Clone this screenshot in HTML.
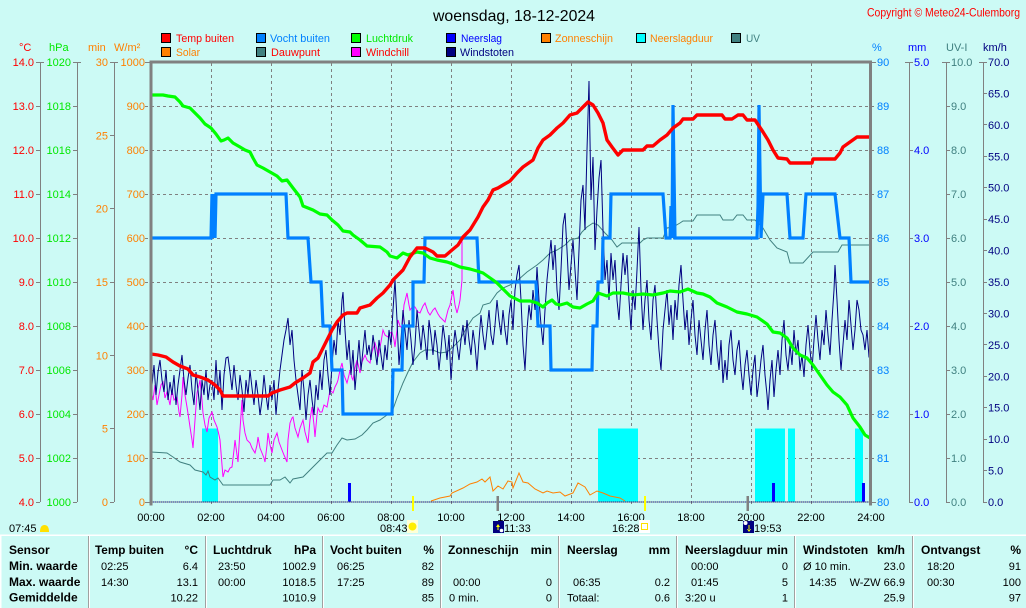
<!DOCTYPE html>
<html><head><meta charset="utf-8"><style>
html,body{margin:0;padding:0;background:#CCFAF5;}
svg{display:block;font-family:"Liberation Sans",sans-serif;}
</style></head><body>
<svg width="1026" height="608" viewBox="0 0 1026 608" xmlns="http://www.w3.org/2000/svg">
<rect x="0" y="0" width="1026" height="608" fill="#CCFAF5"/>

<!-- Title & copyright -->
<text x="514" y="21" font-size="16" text-anchor="middle" fill="#000" textLength="162" lengthAdjust="spacingAndGlyphs">woensdag, 18-12-2024</text>
<text x="867" y="16.5" font-size="12" fill="#FF0000" textLength="153" lengthAdjust="spacingAndGlyphs">Copyright © Meteo24-Culemborg</text>

<!-- Legend -->
<g font-size="11" stroke="none">
<rect x="161.5" y="33.5" width="9" height="9" fill="#FF0000" stroke="#000"/>
<text x="176" y="42" fill="#FF0000" textLength="58" lengthAdjust="spacingAndGlyphs">Temp buiten</text>
<rect x="256.5" y="33.5" width="9" height="9" fill="#0080FF" stroke="#000"/>
<text x="270" y="42" fill="#0080FF" textLength="60" lengthAdjust="spacingAndGlyphs">Vocht buiten</text>
<rect x="351.5" y="33.5" width="9" height="9" fill="#00FF00" stroke="#000"/>
<text x="366" y="42" fill="#00E800" textLength="47" lengthAdjust="spacingAndGlyphs">Luchtdruk</text>
<rect x="446.5" y="33.5" width="9" height="9" fill="#0000FF" stroke="#000"/>
<text x="461" y="42" fill="#0000FF" textLength="41" lengthAdjust="spacingAndGlyphs">Neerslag</text>
<rect x="541.5" y="33.5" width="9" height="9" fill="#FF8000" stroke="#000"/>
<text x="555" y="42" fill="#FF8000" textLength="58" lengthAdjust="spacingAndGlyphs">Zonneschijn</text>
<rect x="636.5" y="33.5" width="9" height="9" fill="#00FFFF" stroke="#000"/>
<text x="650" y="42" fill="#FF8000" textLength="63" lengthAdjust="spacingAndGlyphs">Neerslagduur</text>
<rect x="731.5" y="33.5" width="9" height="9" fill="#408080" stroke="#000"/>
<text x="746" y="42" fill="#408080" textLength="14" lengthAdjust="spacingAndGlyphs">UV</text>

<rect x="161.5" y="47.5" width="9" height="9" fill="#FF8000" stroke="#000"/>
<text x="176" y="56" fill="#FF8000" textLength="24" lengthAdjust="spacingAndGlyphs">Solar</text>
<rect x="256.5" y="47.5" width="9" height="9" fill="#408080" stroke="#000"/>
<text x="271" y="56" fill="#FF0000" textLength="49" lengthAdjust="spacingAndGlyphs">Dauwpunt</text>
<rect x="351.5" y="47.5" width="9" height="9" fill="#FF00FF" stroke="#000"/>
<text x="366" y="56" fill="#FF0000" textLength="43" lengthAdjust="spacingAndGlyphs">Windchill</text>
<rect x="446.5" y="47.5" width="9" height="9" fill="#000080" stroke="#000"/>
<text x="460" y="56" fill="#000080" textLength="54" lengthAdjust="spacingAndGlyphs">Windstoten</text>
</g>

<!-- Axis headers -->
<g font-size="11">
<text x="19" y="51" fill="#FF0000">°C</text>
<text x="49" y="51" fill="#00E800">hPa</text>
<text x="88" y="51" fill="#FF8000">min</text>
<text x="114" y="51" fill="#FF8000">W/m²</text>
<text x="872" y="51" fill="#0080FF">%</text>
<text x="908" y="51" fill="#0000FF">mm</text>
<text x="946" y="51" fill="#408080">UV-I</text>
<text x="983" y="51" fill="#000080">km/h</text>
</g>

<!-- Gridlines -->
<g stroke="#808080" stroke-width="1" stroke-dasharray="3,3" fill="none">
<path d="M211.5 63V505M271.5 63V505M331.5 63V505M391.5 63V505M451.5 63V505M511.5 63V505M571.5 63V505M631.5 63V505M691.5 63V505M751.5 63V505M811.5 63V505"/>
<path d="M145 106.5H876M145 150.5H876M145 194.5H876M145 238.5H876M145 282.5H876M145 326.5H876M145 370.5H876M145 414.5H876M145 458.5H876"/>
</g>

<!-- Left axes -->
<g stroke="#808080" stroke-width="1" fill="none">
<path d="M40.5 62V502M77.5 62V502M114.5 62V502"/>
<path d="M36 62.5H44M36 106.5H40M36 150.5H40M36 194.5H40M36 238.5H40M36 282.5H40M36 326.5H40M36 370.5H40M36 414.5H40M36 458.5H40M36 502.5H40"/>
<path d="M73 62.5H81M73 106.5H77M73 150.5H77M73 194.5H77M73 238.5H77M73 282.5H77M73 326.5H77M73 370.5H77M73 414.5H77M73 458.5H77M73 502.5H77"/>
<path d="M110 62.5H118M110 135.5H114M110 208.5H114M110 282.5H114M110 355.5H114M110 428.5H114M110 502.5H114"/>
<path d="M145 62.5H151M145 502.5H151"/>
</g>
<g font-size="11" fill="#FF0000" text-anchor="end">
<text x="34" y="66">14.0</text><text x="34" y="110">13.0</text><text x="34" y="154">12.0</text><text x="34" y="198">11.0</text><text x="34" y="242">10.0</text><text x="34" y="286">9.0</text><text x="34" y="330">8.0</text><text x="34" y="374">7.0</text><text x="34" y="418">6.0</text><text x="34" y="462">5.0</text><text x="34" y="506">4.0</text>
</g>
<g font-size="11" fill="#00E800" text-anchor="end">
<text x="71" y="66">1020</text><text x="71" y="110">1018</text><text x="71" y="154">1016</text><text x="71" y="198">1014</text><text x="71" y="242">1012</text><text x="71" y="286">1010</text><text x="71" y="330">1008</text><text x="71" y="374">1006</text><text x="71" y="418">1004</text><text x="71" y="462">1002</text><text x="71" y="506">1000</text>
</g>
<g font-size="11" fill="#FF8000" text-anchor="end">
<text x="108" y="66">30</text><text x="108" y="139.3">25</text><text x="108" y="212.7">20</text><text x="108" y="286">15</text><text x="108" y="359.3">10</text><text x="108" y="432.7">5</text><text x="108" y="506">0</text>
<text x="145" y="66">1000</text><text x="145" y="110">900</text><text x="145" y="154">800</text><text x="145" y="198">700</text><text x="145" y="242">600</text><text x="145" y="286">500</text><text x="145" y="330">400</text><text x="145" y="374">300</text><text x="145" y="418">200</text><text x="145" y="462">100</text><text x="145" y="506">0</text>
</g>

<!-- Right axes -->
<g stroke="#808080" stroke-width="1" fill="none">
<path d="M909.5 62V502M946.5 62V502M983.5 62V502"/>
<path d="M871 62.5H876M871 502.5H876"/>
<path d="M905 62.5H913M909 150.5H913M909 238.5H913M909 326.5H913M909 414.5H913M909 502.5H913"/>
<path d="M942 62.5H950M946 106.5H950M946 150.5H950M946 194.5H950M946 238.5H950M946 282.5H950M946 326.5H950M946 370.5H950M946 414.5H950M946 458.5H950M946 502.5H950"/>
<path d="M979 62.5H987M983 93.5H987M983 124.5H987M983 156.5H987M983 187.5H987M983 219.5H987M983 250.5H987M983 282.5H987M983 313.5H987M983 344.5H987M983 376.5H987M983 407.5H987M983 439.5H987M983 470.5H987M983 502.5H987"/>
</g>
<g font-size="11" fill="#0080FF">
<text x="877" y="66">90</text><text x="877" y="110">89</text><text x="877" y="154">88</text><text x="877" y="198">87</text><text x="877" y="242">86</text><text x="877" y="286">85</text><text x="877" y="330">84</text><text x="877" y="374">83</text><text x="877" y="418">82</text><text x="877" y="462">81</text><text x="877" y="506">80</text>
</g>
<g font-size="11" fill="#0000FF">
<text x="914" y="66">5.0</text><text x="914" y="154">4.0</text><text x="914" y="242">3.0</text><text x="914" y="330">2.0</text><text x="914" y="418">1.0</text><text x="914" y="506">0.0</text>
</g>
<g font-size="11" fill="#408080">
<text x="951" y="66">10.0</text><text x="951" y="110">9.0</text><text x="951" y="154">8.0</text><text x="951" y="198">7.0</text><text x="951" y="242">6.0</text><text x="951" y="286">5.0</text><text x="951" y="330">4.0</text><text x="951" y="374">3.0</text><text x="951" y="418">2.0</text><text x="951" y="462">1.0</text><text x="951" y="506">0.0</text>
</g>
<g font-size="11" fill="#000080">
<text x="988" y="66">70.0</text><text x="988" y="97.4">65.0</text><text x="988" y="128.9">60.0</text><text x="988" y="160.3">55.0</text><text x="988" y="191.7">50.0</text><text x="988" y="223.1">45.0</text><text x="988" y="254.6">40.0</text><text x="988" y="286">35.0</text><text x="988" y="317.4">30.0</text><text x="988" y="348.9">25.0</text><text x="988" y="380.3">20.0</text><text x="988" y="411.7">15.0</text><text x="988" y="443.1">10.0</text><text x="988" y="474.6">5.0</text><text x="988" y="506">0.0</text>
</g>

<!-- Rain duration bars -->
<g fill="#00FFFF">
<rect x="202" y="428.5" width="16" height="73.5"/>
<rect x="598" y="428.5" width="40" height="73.5"/>
<rect x="755" y="428.5" width="30" height="73.5"/>
<rect x="788" y="428.5" width="7" height="73.5"/>
<rect x="855" y="428.5" width="8" height="73.5"/>
</g>

<!-- Dew point -->
<polyline fill="none" stroke="#408080" stroke-width="1" points="151,452 167,453 173,457 180,462 190,465 195,470 203,472 206,475 208,471 210,477 215,480 218,478 223,485 270,485 273,480 280,480 285,477 290,483 293,479 303,477 310,470 315,465 320,460 327,453 332,453 337,445 342,438 347,440 355,439 362,435 367,430 373,423 380,420 387,415 392,412 397,398 403,383 408,372 413,362 420,353 425,350 433,350 440,353 447,352 453,347 460,340 467,327 473,318 480,313 483,305 490,303 497,293 503,288 510,285 518,280 527,272 537,265 543,260 550,253 557,250 565,245 570,240 578,238 582,232 587,227 593,223 598,225 605,233 612,240 617,247 622,243 640,243 643,240 647,238 663,238 667,228 673,227 680,223 683,221 693,221 697,215 720,215 723,220 733,220 737,215 743,215 747,220 755,220 763,228 770,240 777,248 787,252 790,263 803,263 813,252 838,252 842,245 871,245"/>

<!-- Windchill -->
<polyline fill="none" stroke="#FF00FF" stroke-width="1" points="151,390 153,400 155,385 157,405 159,395 161,385 163,382 165,398 167,392 170,405 172,390 174,400 177,397 179,412 180,417 182,395 183,377 185,395 187,407 189,420 190,427 192,440 193,448 195,420 197,393 199,385 200,380 202,400 203,413 205,425 207,432 209,418 212,412 214,420 217,427 219,435 220,440 222,465 223,477 225,470 228,472 230,468 232,467 234,450 235,440 237,455 238,462 240,430 242,400 243,420 245,433 247,440 250,443 252,448 255,453 257,445 258,437 260,448 262,453 264,458 265,462 267,445 268,433 270,445 272,453 274,440 277,433 279,442 282,450 284,455 287,462 288,440 290,423 292,418 293,417 295,428 298,437 300,428 303,420 305,432 308,443 310,420 312,407 314,425 315,437 317,415 318,408 320,412 322,412 324,405 327,407 329,396 330,390 333,393 335,387 337,383 338,380 340,370 342,363 344,375 347,383 349,375 350,370 352,378 353,380 355,368 357,360 359,368 360,373 362,362 365,355 367,360 370,363 372,352 375,343 377,350 378,357 381,342 383,330 385,335 388,337 390,333 392,332 394,340 395,347 397,330 398,320 400,326 402,328 404,305 407,293 409,305 410,310 413,306 415,307 418,312 420,313 423,306 425,303 428,312 430,315 433,310 435,308 438,314 440,317 443,320 445,322 448,310 450,305 452,295 453,290 455,305 457,313 459,305 460,300 462,280 462,240"/>

<!-- Wind gusts -->
<polyline fill="none" stroke="#000080" stroke-width="1" points="151,383 152,385 154,365 156,395 158,372 160,360 162,380 164,392 166,370 168,400 170,382 172,395 174,375 176,405 178,385 180,370 182,355 184,380 186,395 188,378 190,365 192,390 194,405 196,372 198,390 200,410 202,380 204,395 206,370 208,400 210,385 212,380 214,400 216,360 218,395 220,370 222,410 224,375 226,358 228,357 230,372 232,390 234,365 236,385 238,400 240,375 242,390 244,412 246,380 248,395 250,370 252,388 254,405 256,380 258,395 260,415 262,400 264,375 266,395 268,410 270,385 272,400 274,380 276,415 278,390 280,370 282,355 284,340 286,330 288,318 290,345 292,330 294,360 296,380 298,395 300,410 302,370 304,390 306,420 308,395 310,380 312,400 314,415 316,385 318,400 320,370 322,390 324,360 326,350 328,375 330,395 332,365 334,340 336,355 338,320 340,335 342,300 343,292 345,330 347,360 349,340 351,375 353,350 355,390 357,365 359,340 361,370 363,350 365,330 367,355 369,345 371,360 373,335 375,350 377,365 379,340 381,355 383,370 385,345 387,360 389,330 391,345 393,310 395,280 397,320 399,365 401,340 403,310 405,330 407,350 409,320 411,340 413,365 415,345 417,310 419,330 421,350 423,325 425,340 427,360 429,320 431,335 433,355 435,330 437,345 439,370 441,350 443,325 445,340 447,360 449,335 451,380 453,350 455,330 457,345 459,360 461,340 463,325 465,345 467,320 469,340 471,355 473,330 475,345 477,370 479,340 481,315 483,335 485,350 487,330 489,310 491,335 493,345 495,325 497,300 499,320 501,335 503,310 505,330 507,345 509,315 511,300 513,330 515,290 517,275 519,265 521,300 523,345 525,370 527,330 529,305 531,320 533,290 535,310 537,267 539,300 541,325 543,345 545,310 547,280 549,260 551,240 553,270 555,245 557,290 559,310 561,270 563,225 565,213 567,250 569,290 571,265 573,240 575,270 577,300 579,250 581,200 583,185 585,230 587,150 589,81 591,200 593,157 595,250 597,210 599,178 601,160 603,230 605,280 607,260 609,300 611,253 613,280 615,260 617,300 619,320 621,285 623,253 625,275 627,255 629,300 631,330 633,290 635,310 637,270 639,227 641,290 643,330 645,300 647,280 649,320 651,340 653,300 655,285 657,320 659,350 661,370 663,330 665,310 667,290 669,325 671,305 673,340 675,300 677,320 679,285 681,265 683,300 685,330 687,310 689,345 691,320 693,300 695,335 697,355 699,320 701,340 703,360 705,330 707,310 709,345 711,365 713,335 715,320 717,350 719,370 721,340 723,383 725,360 727,380 729,345 731,330 733,360 735,375 737,350 739,340 741,370 743,390 745,365 747,350 749,375 751,395 753,370 755,355 757,397 759,380 761,360 763,345 765,375 767,395 768,410 770,380 772,360 774,397 776,370 778,350 780,375 782,340 784,320 786,355 788,370 790,345 792,365 794,330 796,355 798,340 800,370 802,355 804,377 806,345 808,325 810,350 812,370 814,340 816,315 818,340 820,360 822,330 824,345 826,310 828,335 830,355 832,320 834,290 835,265 837,300 839,340 841,370 843,345 845,320 847,340 849,300 851,325 853,350 855,330 857,300 859,310 861,330 863,335 865,350 867,330 869,357 871,357"/>

<!-- Solar -->
<polyline fill="none" stroke="#FF8000" stroke-width="1" points="431,501 440,498 450,496 452,493 463,488 470,484 477,482 482,479 485,482 490,477 493,491 498,486 503,489 508,481 512,482 513,488 519,473 523,482 528,483 535,489 543,493 547,491 553,493 560,492 565,496 573,493 578,483 585,487 590,495 597,491 603,493 610,496 620,498 625,501"/>

<!-- Rain bars -->
<g fill="#0000FF">
<rect x="348" y="483" width="3" height="19"/>
<rect x="772" y="483" width="3" height="19"/>
<rect x="862" y="483" width="3" height="19"/>
</g>

<!-- Humidity -->
<polyline fill="none" stroke="#0080FF" stroke-width="3.2" stroke-linejoin="miter" points="151,238 211,238 212,194 213,238 214,194 215,238 216,194 286,194 288,238 308,238 311,282 321,282 323,326 330,326 332,370 342,370 343,414 392,414 393,370 402,370 403,326 413,326 413,282 424,282 425,238 477,238 479,282 536,282 538,326 550,326 551,370 592,370 593,326 597,326 598,282 602,282 603,238 610,238 611,194 663,194 666,238 670,238 671,206 672,238 673,105 675,238 757,238 758,206 759,105 761,238 763,194 787,194 790,238 803,238 806,194 835,194 840,238 849,238 851,282 871,282"/>

<!-- Pressure -->
<polyline fill="none" stroke="#00FF00" stroke-width="3.2" stroke-linejoin="round" points="151,95 163,95 168,96 175,97 180,102 183,106 190,108 195,113 200,118 205,124 211,128 216,134 221,141 224,140 228,138 233,143 240,147 245,150 250,152 253,158 257,165 263,168 270,172 277,176 282,181 287,180 293,188 300,197 303,206 313,210 320,214 327,215 332,220 338,225 343,231 350,232 353,235 360,240 367,246 380,247 387,252 390,256 397,258 403,253 408,255 417,252 423,253 430,258 437,260 447,262 453,264 460,267 470,269 477,271 483,273 493,280 497,283 505,291 510,296 520,301 530,301 537,303 543,307 547,303 552,300 556,304 560,305 567,303 573,307 580,308 587,304 593,301 598,293 607,296 613,293 623,293 633,295 643,294 653,295 663,293 670,291 680,292 688,289 697,293 703,294 710,297 717,303 727,307 737,312 747,314 757,317 767,324 773,332 780,333 787,338 793,348 800,355 807,358 813,365 820,375 827,385 833,392 840,397 847,405 853,418 860,427 865,435 870,438"/>

<!-- Temperature -->
<polyline fill="none" stroke="#FF0000" stroke-width="3.4" stroke-linejoin="round" points="151,354 158,355 166,357 173,362 180,366 188,369 193,375 200,377 208,380 215,385 220,390 223,396 268,396 272,393 280,390 290,387 295,383 303,378 310,373 313,362 318,358 323,348 327,340 332,330 337,322 343,315 347,313 357,313 360,308 370,305 377,298 383,293 390,285 393,280 403,270 410,257 417,248 425,248 433,252 437,256 445,256 452,250 458,245 463,237 470,230 478,217 483,207 488,200 493,190 498,188 503,185 510,181 517,173 523,167 533,160 538,148 543,140 550,135 557,128 563,123 570,115 577,113 583,107 588,102 593,105 598,113 603,123 607,140 612,147 618,155 623,150 643,150 647,146 653,146 660,140 667,135 673,128 680,123 683,119 693,119 697,115 722,115 725,119 732,119 738,115 743,115 747,120 755,120 763,132 768,140 773,150 778,158 787,159 790,163 812,163 813,159 835,159 840,153 843,147 850,142 857,137 870,137"/>

<!-- Baseline -->
<line x1="151" y1="502" x2="870" y2="502" stroke="#808080" stroke-width="1"/>
<line x1="151" y1="502" x2="870" y2="502" stroke="#202090" stroke-width="1" stroke-dasharray="1,1"/>

<!-- Plot border -->
<g fill="#808080">
<rect x="150" y="60.5" width="722" height="3"/>
<rect x="149.5" y="60.5" width="3" height="445"/>
<rect x="869" y="60.5" width="3" height="445"/>
</g>

<!-- Sun / moon marks -->
<rect x="412" y="496" width="2" height="15" fill="#FFFF00"/>
<rect x="496.5" y="496" width="2.5" height="15" fill="#808080"/>
<rect x="644" y="496" width="2" height="15" fill="#FFFF00"/>
<rect x="746.5" y="496" width="2.5" height="15" fill="#808080"/>

<!-- Hour labels -->
<g font-size="11" fill="#000" text-anchor="middle">
<text x="151" y="521">00:00</text><text x="211" y="521">02:00</text><text x="271" y="521">04:00</text><text x="331" y="521">06:00</text><text x="391" y="521">08:00</text><text x="451" y="521">10:00</text><text x="511" y="521">12:00</text><text x="571" y="521">14:00</text><text x="631" y="521">16:00</text><text x="691" y="521">18:00</text><text x="751" y="521">20:00</text><text x="811" y="521">22:00</text><text x="871" y="521">24:00</text>
</g>

<!-- Sun/moon times -->
<g font-size="11" fill="#000">
<text x="9" y="532">07:45</text>
<path d="M40 532 Q40 525 44.5 525 Q49 525 49 532 Z" fill="#FFE000"/>
<text x="380" y="532">08:43</text>
<rect x="407" y="520" width="11" height="13" fill="#FFFFD8"/>
<circle cx="412.5" cy="526.5" r="4" fill="#FFEE00"/>
<rect x="493" y="521" width="11" height="12" fill="#000080"/>
<path d="M496 527 L498 524 L500 527 Z M497.5 526 H498.5 V530 H497.5 Z" fill="#FFFF00"/>
<circle cx="501.5" cy="530.5" r="1.8" fill="#FFFFFF"/>
<text x="504" y="532">11:33</text>
<text x="612" y="532">16:28</text>
<rect x="639" y="520" width="11" height="13" fill="#FFFFFF"/>
<rect x="641.5" y="523.5" width="6" height="6" fill="none" stroke="#FFE000" stroke-width="1"/>
<rect x="743" y="521" width="11" height="12" fill="#000080"/>
<circle cx="745.5" cy="523" r="2" fill="#FFFFFF"/>
<path d="M747 529 L749 532 L751 529 Z M748.5 525 H749.5 V530 H748.5 Z" fill="#FFFF00"/>
<text x="754" y="532">19:53</text>
</g>

<!-- Table borders -->
<rect x="0" y="534.5" width="1026" height="1.5" fill="#FFFFFF"/>
<rect x="0" y="535" width="1.5" height="73" fill="#FFFFFF"/>
<g fill="#A0A0A0">
<rect x="88" y="536" width="1" height="72"/><rect x="205" y="536" width="1" height="72"/><rect x="322" y="536" width="1" height="72"/><rect x="440" y="536" width="1" height="72"/><rect x="558" y="536" width="1" height="72"/><rect x="676" y="536" width="1" height="72"/><rect x="794" y="536" width="1" height="72"/><rect x="912" y="536" width="1" height="72"/>
</g>
<g fill="#FFFFFF">
<rect x="89" y="536" width="1" height="72"/><rect x="206" y="536" width="1" height="72"/><rect x="323" y="536" width="1" height="72"/><rect x="441" y="536" width="1" height="72"/><rect x="559" y="536" width="1" height="72"/><rect x="677" y="536" width="1" height="72"/><rect x="795" y="536" width="1" height="72"/><rect x="913" y="536" width="1" height="72"/>
</g>

<!-- Table text -->
<g font-size="12" font-weight="bold" fill="#000">
<text x="9" y="554">Sensor</text>
<text x="9" y="570">Min. waarde</text>
<text x="9" y="586">Max. waarde</text>
<text x="9" y="601.5">Gemiddelde</text>
<text x="95" y="554" textLength="69" lengthAdjust="spacingAndGlyphs">Temp buiten</text>
<text x="198" y="554" text-anchor="end">°C</text>
<text x="213" y="554">Luchtdruk</text>
<text x="316" y="554" text-anchor="end">hPa</text>
<text x="330" y="554">Vocht buiten</text>
<text x="434" y="554" text-anchor="end">%</text>
<text x="448" y="554">Zonneschijn</text>
<text x="552" y="554" text-anchor="end">min</text>
<text x="567" y="554">Neerslag</text>
<text x="670" y="554" text-anchor="end">mm</text>
<text x="685" y="554">Neerslagduur</text>
<text x="788" y="554" text-anchor="end">min</text>
<text x="803" y="554">Windstoten</text>
<text x="905" y="554" text-anchor="end">km/h</text>
<text x="921" y="554">Ontvangst</text>
<text x="1021" y="554" text-anchor="end">%</text>
</g>
<g font-size="11" fill="#000">
<text x="101" y="570">02:25</text><text x="198" y="570" text-anchor="end">6.4</text>
<text x="101" y="586">14:30</text><text x="198" y="586" text-anchor="end">13.1</text>
<text x="198" y="601.5" text-anchor="end">10.22</text>

<text x="218" y="570">23:50</text><text x="316" y="570" text-anchor="end">1002.9</text>
<text x="218" y="586">00:00</text><text x="316" y="586" text-anchor="end">1018.5</text>
<text x="316" y="601.5" text-anchor="end">1010.9</text>

<text x="337" y="570">06:25</text><text x="434" y="570" text-anchor="end">82</text>
<text x="337" y="586">17:25</text><text x="434" y="586" text-anchor="end">89</text>
<text x="434" y="601.5" text-anchor="end">85</text>

<text x="453" y="586">00:00</text><text x="552" y="586" text-anchor="end">0</text>
<text x="449" y="601.5">0 min.</text><text x="552" y="601.5" text-anchor="end">0</text>

<text x="573" y="586">06:35</text><text x="670" y="586" text-anchor="end">0.2</text>
<text x="567" y="601.5">Totaal:</text><text x="670" y="601.5" text-anchor="end">0.6</text>

<text x="691" y="570">00:00</text><text x="788" y="570" text-anchor="end">0</text>
<text x="691" y="586">01:45</text><text x="788" y="586" text-anchor="end">5</text>
<text x="685" y="601.5">3:20 u</text><text x="788" y="601.5" text-anchor="end">1</text>

<text x="803" y="570">Ø 10 min.</text><text x="905" y="570" text-anchor="end">23.0</text>
<text x="809" y="586">14:35</text><text x="905" y="586" text-anchor="end">W-ZW 66.9</text>
<text x="905" y="601.5" text-anchor="end">25.9</text>

<text x="927" y="570">18:20</text><text x="1021" y="570" text-anchor="end">91</text>
<text x="927" y="586">00:30</text><text x="1021" y="586" text-anchor="end">100</text>
<text x="1021" y="601.5" text-anchor="end">97</text>
</g>
</svg>
</body></html>
